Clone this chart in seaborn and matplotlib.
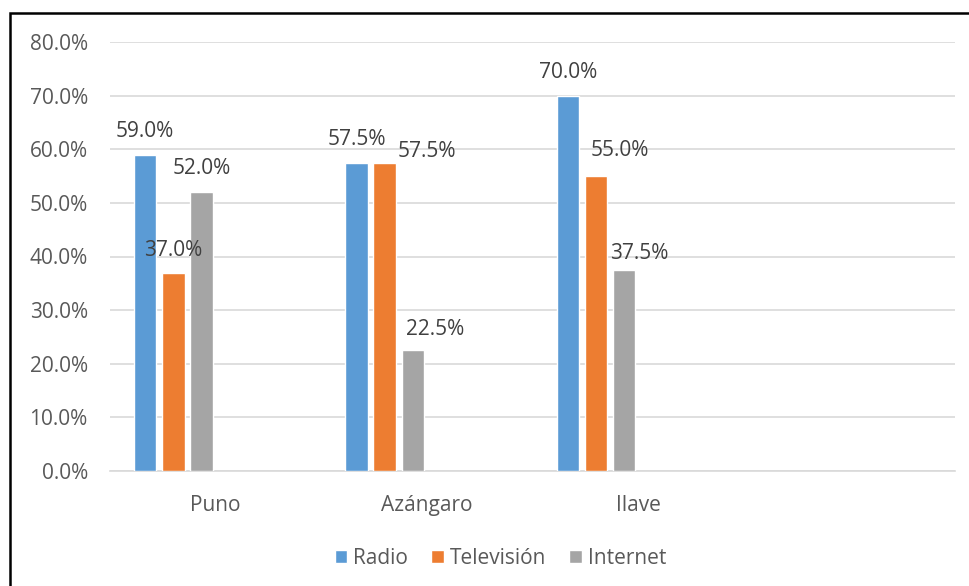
import pandas as pd
import numpy as np
import matplotlib
matplotlib.use('Agg')
import matplotlib.pyplot as plt
from matplotlib.patches import Patch, Rectangle
import seaborn as sns

# data
towns = ['Puno', 'Azángaro', 'Ilave']
radio = [0.59, 0.575, 0.70]
television = [0.37, 0.575, 0.55]
internet = [0.52, 0.225, 0.375]
series = ['Radio', 'Televisión', 'Internet']
# the original sheet had three more (empty) series and an empty fourth category
empty_series = ['s4', 's5', 's6']
all_towns = towns + [' ']

colors = ['#5B9BD5', '#ED7D31', '#A5A5A5']

# label nudges in pixels (dx, gap above bar top), per series then per town
label_dx = [[0, 0, 0], [0, 42, 24], [0, 22, 15]]
label_gap = [[18, 18, 18], [17, 6, 20], [18, 15, 11]]

rows = []
for s, vals in zip(series, [radio, television, internet]):
    for t, v in zip(towns, vals):
        rows.append({'town': t, 'medio': s, 'pct': v})
df = pd.DataFrame(rows)

sns.set_style('white')
plt.rcParams['font.family'] = ['Open Sans', 'DejaVu Sans']

fs = 15
txt = '#595959'

fig = plt.figure(figsize=(9.7, 5.86), dpi=100)
ax = fig.add_axes([110 / 970, 1 - 471 / 586, 845 / 970, 429 / 586])

sns.barplot(data=df, x='town', y='pct', hue='medio',
            order=all_towns, hue_order=series + empty_series,
            palette=colors + ['white'] * 3, saturation=1, width=0.8, gap=0.21,
            ax=ax, legend=False, zorder=3)

ax.set_ylim(0, 0.8)
ax.set_yticks(np.arange(0, 0.81, 0.1))
ax.set_yticklabels([f'{v * 100:.1f}%' for v in np.arange(0, 0.81, 0.1)])
ax.set_xlim(-0.5, 3.5)
ax.set_xlabel('')
ax.set_ylabel('')
ax.grid(axis='y', color='#D9D9D9', linewidth=1.2, zorder=0)
for sp in ['top', 'right', 'left']:
    ax.spines[sp].set_visible(False)
ax.spines['bottom'].set_color('#D9D9D9')
ax.spines['bottom'].set_linewidth(1.2)
ax.tick_params(axis='both', length=0, labelsize=fs, colors=txt)
ax.tick_params(axis='x', pad=17)
ax.tick_params(axis='y', pad=16)

# value labels above each bar
for i, cont in enumerate(ax.containers[:3]):
    for j, b in enumerate(cont):
        h = b.get_height()
        ax.annotate(f'{h * 100:.1f}%', (b.get_x() + b.get_width() / 2, h),
                    xytext=(label_dx[i][j] * 0.72, label_gap[i][j] * 0.72),
                    textcoords='offset points', ha='center', va='baseline',
                    fontsize=fs, color='#404040')

handles = [Patch(facecolor=c, label=s) for c, s in zip(colors, series)]
fig.legend(handles=handles, loc='center', bbox_to_anchor=(0.516, 1 - 558 / 586),
           ncol=3, frameon=False, fontsize=fs, handlelength=0.6, handleheight=0.6,
           handletextpad=0.3, columnspacing=1.1, labelcolor=txt)

# chart border (cropped at right and bottom in the original)
fig.patches.append(Rectangle((10 / 970, -0.1), 1.2, 1 - 13 / 586 + 0.1,
                             transform=fig.transFigure, fill=False,
                             edgecolor='black', linewidth=1.8))

fig.savefig('out.png', dpi=100)
